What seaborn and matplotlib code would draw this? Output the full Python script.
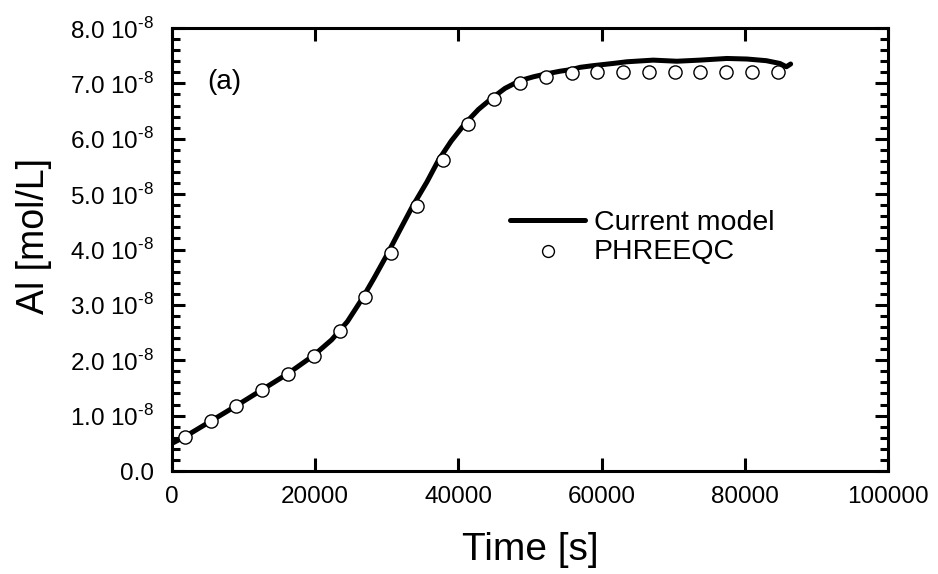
import matplotlib
matplotlib.use("Agg")
import matplotlib.pyplot as plt
from matplotlib.ticker import MultipleLocator, FuncFormatter, NullLocator
import seaborn as sns

# ==========================================
# DATA (Al in units of 1e-8 mol/L)
# ==========================================
SCALE = 1e-8

model_time = [0, 1800, 5400, 9000, 12600, 16200, 19800, 22300, 24500, 26500,
              28200, 30000, 31700, 33500, 35600, 37200, 39000, 40900, 42800,
              44650, 46500, 48600, 50500, 52200, 54200, 55800, 57000, 58800,
              61600, 63500, 67200, 70500, 73700, 77500, 80300, 83000, 84900,
              85800, 86400]
model_al = [0.50, 0.62, 0.90, 1.18, 1.47, 1.76, 2.09, 2.37, 2.70, 3.10,
            3.48, 3.90, 4.32, 4.76, 5.22, 5.61, 5.96, 6.27, 6.53,
            6.73, 6.91, 7.05, 7.12, 7.17, 7.22, 7.25, 7.29, 7.32,
            7.36, 7.39, 7.42, 7.40, 7.42, 7.45, 7.44, 7.41, 7.36,
            7.30, 7.35]

phreeqc_time = [1800, 5400, 9000, 12600, 16200, 19800, 23400, 27000, 30600,
                34200, 37800, 41400, 45000, 48600, 52200, 55800, 59400, 63000,
                66600, 70200, 73800, 77400, 81000, 84600]
phreeqc_al = [0.62, 0.91, 1.18, 1.47, 1.76, 2.08, 2.52, 3.15, 3.93,
              4.78, 5.61, 6.26, 6.72, 7.00, 7.12, 7.19, 7.21, 7.21,
              7.21, 7.21, 7.21, 7.21, 7.21, 7.21]

x_ticks = [0, 20000, 40000, 60000, 80000, 100000]
y_ticks = [0, 1, 2, 3, 4, 5, 6, 7, 8]

# ==========================================
# STYLE
# ==========================================
sns.set_theme(style="ticks")
plt.rcParams['font.family'] = ['Liberation Sans', 'DejaVu Sans']
plt.rcParams['mathtext.fontset'] = 'custom'
plt.rcParams['mathtext.rm'] = 'Liberation Sans'
plt.rcParams['axes.edgecolor'] = 'black'
plt.rcParams['axes.linewidth'] = 2.2
plt.rcParams['xtick.color'] = 'black'
plt.rcParams['ytick.color'] = 'black'
plt.rcParams['text.color'] = 'black'
plt.rcParams['axes.labelcolor'] = 'black'

fig = plt.figure(figsize=(9.38, 5.74), dpi=100)
ax = fig.add_axes([0.1834, 0.1794, 0.7633, 0.7718])

sns.lineplot(x=model_time, y=[v * SCALE for v in model_al], color='black',
             linewidth=3.6, ax=ax, label='Current model', sort=False)
sns.scatterplot(x=phreeqc_time, y=[v * SCALE for v in phreeqc_al],
                marker='o', s=90, facecolor='white', edgecolor='black',
                linewidth=1.0, ax=ax, label='PHREEQC', zorder=3)

ax.set_xlim(0, 100000)
ax.set_ylim(0, 8 * SCALE)
ax.set_xticks(x_ticks)
ax.set_xticklabels([str(t) for t in x_ticks])
ax.set_yticks([v * SCALE for v in y_ticks])
ax.yaxis.set_minor_locator(MultipleLocator(0.2 * SCALE))
ax.xaxis.set_minor_locator(NullLocator())


def fmt_y(v, pos):
    n = v / SCALE
    if abs(n) < 1e-9:
        return "0.0"
    return "%.1f 10$^{\\text{-8}}$" % n


ax.yaxis.set_major_formatter(FuncFormatter(fmt_y))

ax.tick_params(which='major', direction='in', length=9.5, width=2.2,
               top=True, right=True, labelsize=17.5, pad=11)
ax.tick_params(which='minor', direction='in', length=5.5, width=2.2,
               top=True, right=True)
ax.tick_params(axis='y', which='major', pad=13)

ax.set_xlabel('Time [s]', fontsize=28, labelpad=17)
ax.set_ylabel('Al [mol/L]', fontsize=27)
ax.yaxis.set_label_coords(-0.168, 0.53)

ax.text(0.049, 0.878, '(a)', transform=ax.transAxes, fontsize=20,
        va='center', ha='left')

ax.legend(loc='upper left', bbox_to_anchor=(0.472, 0.589), frameon=False,
          fontsize=20.5, handlelength=2.65, handletextpad=0.3, borderpad=0,
          borderaxespad=0, labelspacing=0.1, markerscale=0.9)

fig.savefig('out.png', dpi=100)
